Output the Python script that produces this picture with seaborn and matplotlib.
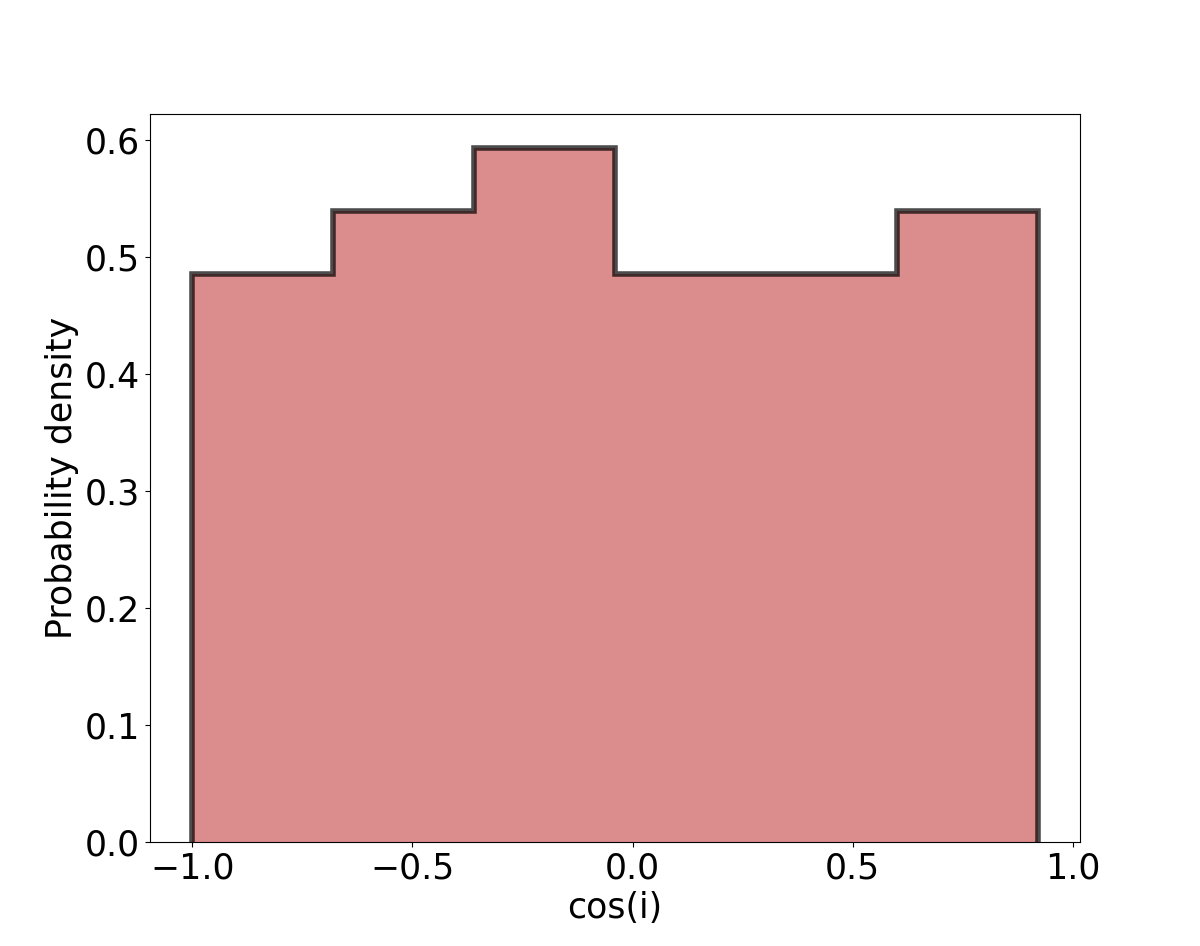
import numpy as np
import pandas as pd
import seaborn as sns
import matplotlib.pyplot as plt

# Bordes de los bins y conteos
bin_edges = [-1.0, -0.68, -0.36, -0.04, 0.28, 0.60, 0.92]
bin_counts = [9, 10, 11, 9, 9, 10]
xticks = [-1.0, -0.5, 0.0, 0.5, 1.0]

centros = [(a + b) / 2 for a, b in zip(bin_edges[:-1], bin_edges[1:])]
df = pd.DataFrame({'cos_i': centros, 'n': bin_counts})

fig, ax = plt.subplots(figsize=(12, 9.46), dpi=100)

# relleno sin borde
sns.histplot(data=df, x='cos_i', weights='n', bins=bin_edges, stat='density',
             element='step', fill=True, color='indianred', alpha=0.7,
             linewidth=0, ax=ax)

# contorno (sin línea en la base, como histtype='step')
sns.histplot(data=df, x='cos_i', weights='n', bins=bin_edges, stat='density',
             element='step', fill=False, color='black', alpha=0.7,
             linewidth=4, ax=ax)

# cerrar el contorno con los tramos verticales de los extremos
linea = ax.lines[-1]
lx, ly = linea.get_data()
linea.set_data(np.r_[lx[0], lx, lx[-1]], np.r_[0, ly, 0])
linea.set_solid_joinstyle('miter')

ax.set_xticks(xticks)
ax.set_xlabel('cos(i)', fontsize=25)
ax.set_ylabel('Probability density', fontsize=25)
ax.tick_params(axis='both', labelsize=25)

plt.savefig('out.png', dpi=100)
plt.close()
